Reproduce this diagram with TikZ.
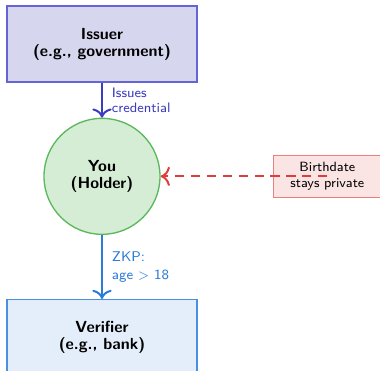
\documentclass[tikz,border=0pt]{standalone}
\usepackage{amsmath}
\usepackage{tikz}
\usetikzlibrary{positioning, arrows.meta}
\renewcommand{\familydefault}{\sfdefault}
\definecolor{issuerfill}{RGB}{214,214,239}
\definecolor{issuerline}{RGB}{100,100,215}
\definecolor{issuerarrow}{RGB}{60,60,190}
\definecolor{holderfill}{RGB}{213,237,213}
\definecolor{holderline}{RGB}{92,184,92}
\definecolor{secretfill}{RGB}{251,228,228}
\definecolor{secretline}{RGB}{232,128,128}
\definecolor{secretarrow}{RGB}{224,60,60}
\definecolor{verifierfill}{RGB}{228,238,250}
\definecolor{verifierline}{RGB}{74,144,226}
\definecolor{verifierarrow}{RGB}{44,123,214}
\tikzset{party box/.style={rectangle, draw, line width=0.8pt, minimum width=3.99cm, minimum height=1.596cm, align=center, font={\fontsize{9.6}{10.2}\selectfont\bfseries}},
         holder node/.style={circle, draw=holderline, fill=holderfill, line width=0.8pt, minimum size=2.436cm, inner sep=3pt, align=center, font={\fontsize{9.6}{10.2}\selectfont\bfseries}},
         secret box/.style={rectangle, draw=secretline, fill=secretfill, line width=0.8pt, minimum width=2.268cm, minimum height=0.882cm, align=center, font={\fontsize{8}{9.2}\selectfont}},
         step label/.style={right, xshift=2pt, align=left},}

\begin{document}
\begin{tikzpicture}[line width=1.2pt, >={To[scale=1.3]}]
        \useasboundingbox (0,0) rectangle (7.98,-7.77);
        % Nodes
        \node[party box, draw=issuerline, fill=issuerfill] (issuer) at (2.142,-0.924) {Issuer\\(e.g., government)};
        \node[holder node] [below = 0.735cm of issuer] (holder) {You\\(Holder)};
        \node[secret box] [right = 2.352cm of holder] (secret) {Birthdate\\stays private};
        \node[party box, draw=verifierline, fill=verifierfill] [below = 1.344cm of holder] (verifier) {Verifier\\(e.g., bank)};
        % Paths
        \path[draw]
        (issuer) edge [->, issuerarrow] node [step label, text=issuerarrow, font={\fontsize{8.2}{9}\selectfont}] {Issues\\credential} (holder)
        (holder) edge [->, verifierarrow] node [step label, text=verifierarrow, font={\fontsize{8.4}{10.6}\selectfont}] {ZKP:\\age $>$ 18} (verifier)
        (secret.center) edge [->, secretarrow, dash pattern=on 5.5pt off 4pt] node {} (holder);
    \end{tikzpicture}
\end{document}
